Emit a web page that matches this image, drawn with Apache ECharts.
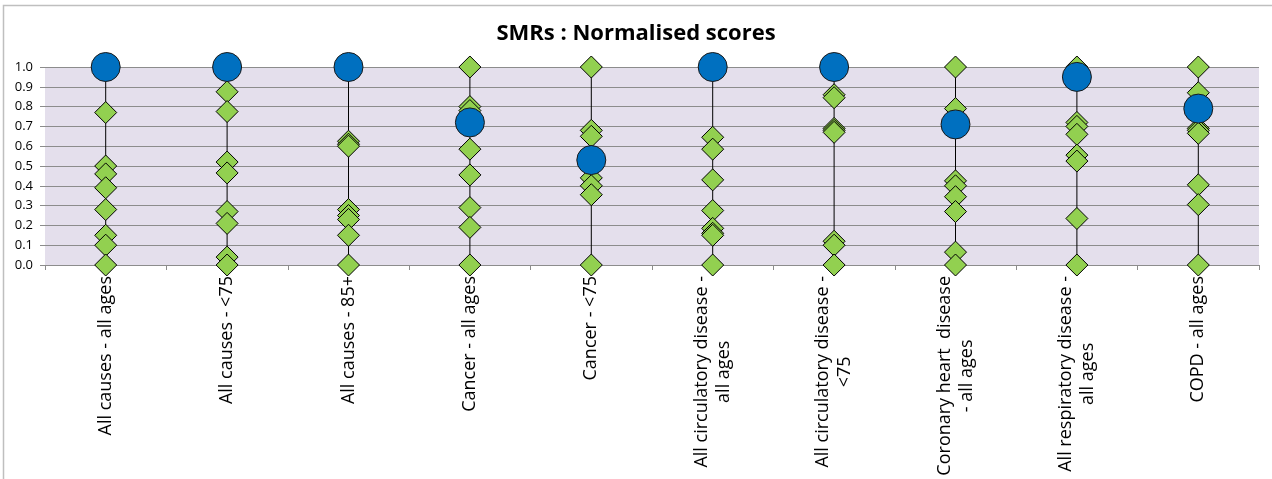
<!DOCTYPE html>
<html>
<head>
<meta charset="utf-8">
<script src="https://cdn.jsdelivr.net/npm/echarts@6/dist/echarts.min.js"></script>
<style>
  html, body { margin: 0; padding: 0; background: #fff; }
  #chart { width: 1272px; height: 479px; }
</style>
</head>
<body>
<div id="chart"></div>
<script>
// Categories (x axis)
const categories = [
  'All causes - all ages',
  'All causes - <75',
  'All causes - 85+',
  'Cancer - all ages',
  'Cancer - <75',
  'All circulatory disease -\nall ages',
  'All circulatory disease -\n<75',
  'Coronary heart  disease\n- all ages',
  'All respiratory disease -\nall ages',
  'COPD - all ages'
];

// Highlighted area (blue circles), one per category
const localScore = [1.0, 1.0, 1.0, 0.72, 0.53, 1.0, 1.0, 0.71, 0.95, 0.79];

// Comparator areas (green diamonds), one array per category
const allCausesAll   = [0.77, 0.50, 0.46, 0.39, 0.28, 0.15, 0.10, 0.0];
const allCauses75    = [0.875, 0.775, 0.52, 0.465, 0.27, 0.21, 0.04, 0.0];
const allCauses85    = [0.625, 0.61, 0.60, 0.28, 0.25, 0.23, 0.15, 0.0];
const cancerAll      = [1.0, 0.80, 0.78, 0.585, 0.455, 0.29, 0.19, 0.0];
const cancer75       = [1.0, 0.68, 0.65, 0.55, 0.44, 0.40, 0.355, 0.0];
const circAll        = [0.645, 0.585, 0.43, 0.275, 0.185, 0.16, 0.15, 0.0];
const circ75         = [0.86, 0.845, 0.69, 0.68, 0.67, 0.12, 0.10, 0.0];
const coronaryAll    = [1.0, 0.79, 0.425, 0.40, 0.345, 0.27, 0.065, 0.0];
const respAll        = [1.0, 0.72, 0.70, 0.66, 0.555, 0.525, 0.235, 0.0];
const copdAll        = [1.0, 0.87, 0.69, 0.68, 0.665, 0.405, 0.305, 0.0];

const comparators = [allCausesAll, allCauses75, allCauses85, cancerAll, cancer75,
                     circAll, circ75, coronaryAll, respAll, copdAll];

// Y tick labels
const yTicks = ['0.0','0.1','0.2','0.3','0.4','0.5','0.6','0.7','0.8','0.9','1.0'];

// Build series data from the arrays
const diamondData = [];
comparators.forEach((arr, i) => arr.forEach(v => diamondData.push([i, v])));
const circleData = localScore.map((v, i) => [i, v]);
const rangeData = comparators.map((arr, i) => {
  const all = arr.concat([localScore[i]]);
  return [i, Math.min.apply(null, all), Math.max.apply(null, all)];
});

const chart = echarts.init(document.getElementById('chart'), null, { renderer: 'canvas' });
const FONT = '"Open Sans", "Noto Sans", sans-serif';

chart.setOption({
  animation: false,
  backgroundColor: '#ffffff',
  title: {
    text: 'SMRs : Normalised scores',
    left: 'center',
    top: 18,
    textStyle: { fontFamily: FONT, fontSize: 22, fontWeight: 'bold', color: '#000' }
  },
  graphic: [{
    type: 'rect',
    shape: { x: 3.5, y: 5.5, width: 1280, height: 500 },
    style: { fill: 'none', stroke: '#BFBFBF', lineWidth: 1.5 },
    silent: true
  }],
  grid: {
    left: 45, right: 13, top: 67, bottom: 214,
    show: true, backgroundColor: '#E4DFEC', borderWidth: 0
  },
  xAxis: {
    type: 'category',
    data: categories,
    boundaryGap: true,
    axisLine: { show: true, lineStyle: { color: '#8C8C8C', width: 1 } },
    axisTick: { show: true, length: 5, inside: false, alignWithLabel: false,
                lineStyle: { color: '#8C8C8C' } },
    axisLabel: {
      rotate: 90,
      interval: 0,
      margin: 11,
      color: '#000',
      fontFamily: FONT,
      fontSize: 18,
      lineHeight: 22,
      formatter: function (v) {
        return v.split('\n').map(l => '{c|' + l + '}').join('\n');
      },
      rich: {
        c: { align: 'center', fontFamily: FONT, fontSize: 18, lineHeight: 22, color: '#000' }
      }
    },
    splitLine: { show: false }
  },
  yAxis: {
    type: 'value',
    min: 0, max: 1, interval: 0.1,
    axisLine: { show: false },
    axisTick: { show: true, length: 5, inside: false, lineStyle: { color: '#8C8C8C' } },
    axisLabel: {
      margin: 12,
      color: '#000',
      fontFamily: FONT,
      fontSize: 13,
      formatter: function (v) { return yTicks[Math.round(v * 10)]; }
    },
    splitLine: { show: true, lineStyle: { color: '#8C8C8C', width: 1 } }
  },
  series: [
    {
      type: 'custom',
      z: 1,
      data: rangeData,
      renderItem: function (params, api) {
        const p1 = api.coord([api.value(0), api.value(1)]);
        const p2 = api.coord([api.value(0), api.value(2)]);
        return {
          type: 'line',
          shape: { x1: p1[0], y1: p1[1], x2: p2[0], y2: p2[1] },
          style: { stroke: '#000', lineWidth: 1 }
        };
      },
      silent: true
    },
    {
      type: 'scatter',
      z: 2,
      symbol: 'diamond',
      symbolSize: [22, 22],
      data: diamondData,
      itemStyle: { color: '#92D050', borderColor: '#000', borderWidth: 1, opacity: 1 }
    },
    {
      type: 'scatter',
      z: 3,
      symbol: 'circle',
      symbolSize: 29,
      data: circleData,
      itemStyle: { color: '#0070C0', borderColor: '#1a1a1a', borderWidth: 1, opacity: 1 }
    }
  ]
});
</script>
</body>
</html>
